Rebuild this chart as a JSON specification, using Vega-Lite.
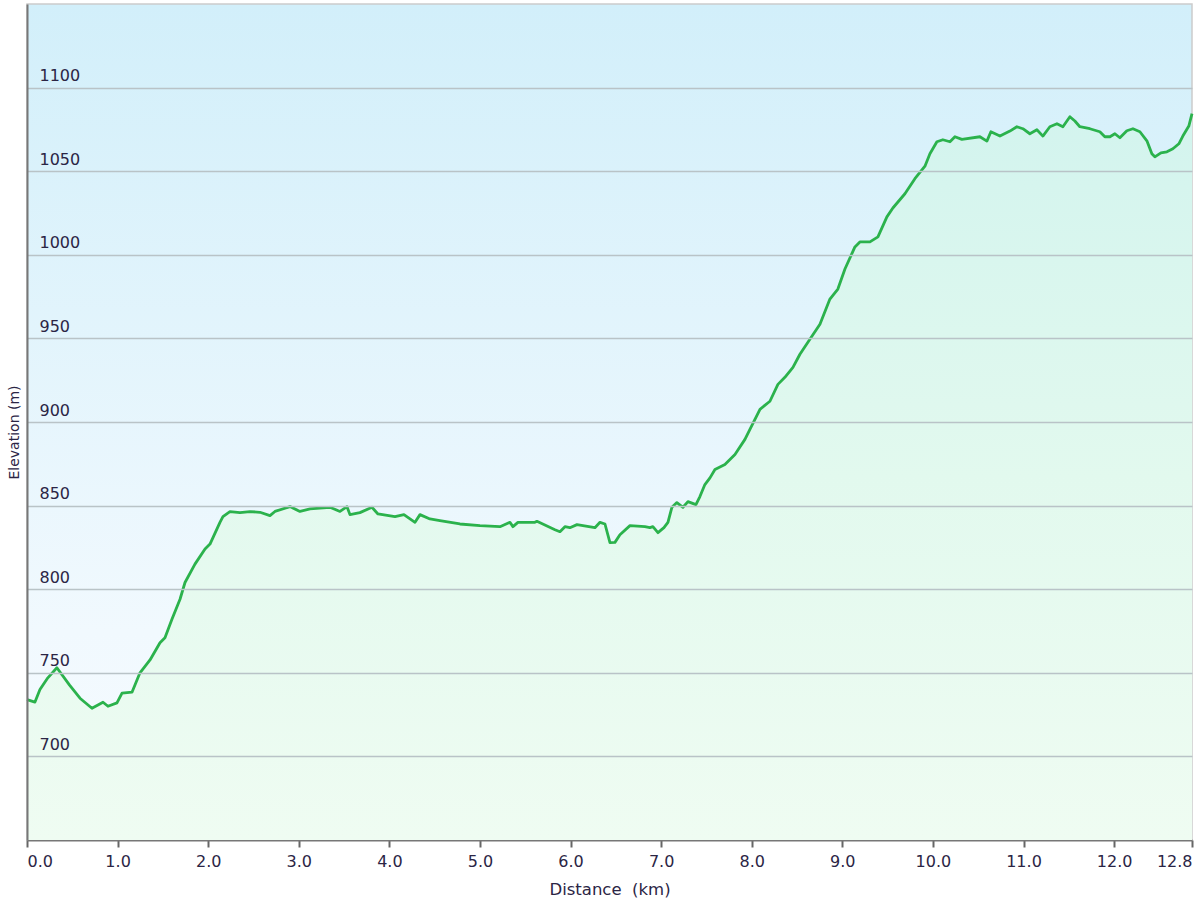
{
  "$schema": "https://vega.github.io/schema/vega-lite/v6.json",
  "width": 1165,
  "height": 836,
  "autosize": {"type": "none"},
  "padding": {"left": 27, "top": 4, "right": 8, "bottom": 60},
  "background": "#ffffff",
  "config": {
    "view": {
      "stroke": "#cccccc",
      "strokeWidth": 1.5,
      "fill": {"gradient": "linear", "x1": 0, "y1": 0, "x2": 0, "y2": 1, "stops": [{"offset": 0, "color": "#d2effa"}, {"offset": 0.75, "color": "#f1f9fe"}, {"offset": 1, "color": "#f6fbff"}]}
    },
    "font": "DejaVu Sans",
    "axis": {"labelFont": "DejaVu Sans", "titleFont": "DejaVu Sans", "labelColor": "#2b2545", "titleColor": "#2b2545", "titleFontWeight": "normal"}
  },
  "data": {"values": [
    {"km": 0.0, "ele": 734}, {"km": 0.088, "ele": 732.5}, {"km": 0.143, "ele": 740}, {"km": 0.23, "ele": 747},
    {"km": 0.33, "ele": 753}, {"km": 0.47, "ele": 742.6}, {"km": 0.585, "ele": 734.8}, {"km": 0.717, "ele": 728.8},
    {"km": 0.839, "ele": 732.4}, {"km": 0.894, "ele": 730}, {"km": 0.993, "ele": 732}, {"km": 1.049, "ele": 737.8},
    {"km": 1.159, "ele": 738.4}, {"km": 1.247, "ele": 750}, {"km": 1.358, "ele": 757.7}, {"km": 1.468, "ele": 768},
    {"km": 1.523, "ele": 771}, {"km": 1.6, "ele": 782}, {"km": 1.689, "ele": 794}, {"km": 1.744, "ele": 804},
    {"km": 1.854, "ele": 815}, {"km": 1.965, "ele": 824}, {"km": 2.02, "ele": 827}, {"km": 2.13, "ele": 840},
    {"km": 2.163, "ele": 843.4}, {"km": 2.24, "ele": 846.4}, {"km": 2.351, "ele": 845.8}, {"km": 2.461, "ele": 846.4},
    {"km": 2.572, "ele": 846}, {"km": 2.682, "ele": 844}, {"km": 2.737, "ele": 846.5}, {"km": 2.903, "ele": 849.4},
    {"km": 3.013, "ele": 846.5}, {"km": 3.124, "ele": 848}, {"km": 3.344, "ele": 849}, {"km": 3.455, "ele": 846.5},
    {"km": 3.532, "ele": 849.4}, {"km": 3.565, "ele": 844.6}, {"km": 3.675, "ele": 845.8}, {"km": 3.808, "ele": 849},
    {"km": 3.874, "ele": 845}, {"km": 4.062, "ele": 843.4}, {"km": 4.161, "ele": 844.6}, {"km": 4.283, "ele": 840},
    {"km": 4.338, "ele": 844.6}, {"km": 4.448, "ele": 842}, {"km": 4.558, "ele": 841}, {"km": 4.779, "ele": 839},
    {"km": 5.0, "ele": 838}, {"km": 5.221, "ele": 837.4}, {"km": 5.331, "ele": 840}, {"km": 5.364, "ele": 837.4},
    {"km": 5.419, "ele": 840}, {"km": 5.607, "ele": 840}, {"km": 5.629, "ele": 840.6}, {"km": 5.828, "ele": 835.6},
    {"km": 5.883, "ele": 834.4}, {"km": 5.938, "ele": 837.4}, {"km": 5.993, "ele": 836.8}, {"km": 6.071, "ele": 838.6},
    {"km": 6.269, "ele": 836.8}, {"km": 6.325, "ele": 840}, {"km": 6.38, "ele": 839}, {"km": 6.435, "ele": 827.8},
    {"km": 6.49, "ele": 828}, {"km": 6.545, "ele": 832.6}, {"km": 6.656, "ele": 838}, {"km": 6.821, "ele": 837.4},
    {"km": 6.876, "ele": 836.8}, {"km": 6.909, "ele": 837.4}, {"km": 6.965, "ele": 833.8}, {"km": 7.031, "ele": 836.8},
    {"km": 7.075, "ele": 840}, {"km": 7.119, "ele": 849}, {"km": 7.174, "ele": 851.8}, {"km": 7.241, "ele": 849},
    {"km": 7.296, "ele": 852.4}, {"km": 7.384, "ele": 850.6}, {"km": 7.428, "ele": 855.4}, {"km": 7.483, "ele": 862.6},
    {"km": 7.539, "ele": 866.6}, {"km": 7.594, "ele": 871.6}, {"km": 7.704, "ele": 874.6}, {"km": 7.815, "ele": 880.6},
    {"km": 7.925, "ele": 889.6}, {"km": 7.98, "ele": 895.6}, {"km": 8.091, "ele": 907.6}, {"km": 8.201, "ele": 912.4},
    {"km": 8.289, "ele": 922.5}, {"km": 8.366, "ele": 926.7}, {"km": 8.455, "ele": 932.7}, {"km": 8.532, "ele": 940.5},
    {"km": 8.642, "ele": 949.5}, {"km": 8.753, "ele": 958.5}, {"km": 8.863, "ele": 973.5}, {"km": 8.951, "ele": 979.5},
    {"km": 9.029, "ele": 991.5}, {"km": 9.139, "ele": 1004.7}, {"km": 9.194, "ele": 1007.7}, {"km": 9.305, "ele": 1007.7},
    {"km": 9.393, "ele": 1010.7}, {"km": 9.492, "ele": 1022.7}, {"km": 9.558, "ele": 1028}, {"km": 9.691, "ele": 1036.5},
    {"km": 9.801, "ele": 1045.5}, {"km": 9.912, "ele": 1053}, {"km": 9.967, "ele": 1060.4}, {"km": 10.044, "ele": 1067.6},
    {"km": 10.11, "ele": 1068.8}, {"km": 10.188, "ele": 1067.6}, {"km": 10.243, "ele": 1070.6}, {"km": 10.32, "ele": 1069},
    {"km": 10.519, "ele": 1070.6}, {"km": 10.596, "ele": 1068}, {"km": 10.64, "ele": 1073.6}, {"km": 10.74, "ele": 1071},
    {"km": 10.85, "ele": 1074}, {"km": 10.927, "ele": 1076.6}, {"km": 10.993, "ele": 1075.4}, {"km": 11.07, "ele": 1072.4},
    {"km": 11.148, "ele": 1074.8}, {"km": 11.214, "ele": 1071}, {"km": 11.291, "ele": 1076.6}, {"km": 11.369, "ele": 1078.4},
    {"km": 11.435, "ele": 1076.6}, {"km": 11.512, "ele": 1082.6}, {"km": 11.567, "ele": 1080}, {"km": 11.622, "ele": 1076.6},
    {"km": 11.733, "ele": 1075.4}, {"km": 11.843, "ele": 1073.6}, {"km": 11.898, "ele": 1070.6}, {"km": 11.954, "ele": 1070.6},
    {"km": 12.009, "ele": 1072.4}, {"km": 12.064, "ele": 1070}, {"km": 12.141, "ele": 1074.2}, {"km": 12.208, "ele": 1075.4},
    {"km": 12.285, "ele": 1073.6}, {"km": 12.362, "ele": 1068.2}, {"km": 12.417, "ele": 1060.4}, {"km": 12.45, "ele": 1058.6},
    {"km": 12.517, "ele": 1061}, {"km": 12.583, "ele": 1061.6}, {"km": 12.649, "ele": 1063.4}, {"km": 12.715, "ele": 1066.4},
    {"km": 12.759, "ele": 1071}, {"km": 12.825, "ele": 1077}, {"km": 12.86, "ele": 1084.4}
  ]},
  "encoding": {
    "x": {
      "field": "km", "type": "quantitative",
      "scale": {"domain": [0, 12.86], "nice": false, "zero": false},
      "axis": {
        "title": "Distance\u00a0 (km)",
        "values": [0, 1, 2, 3, 4, 5, 6, 7, 8, 9, 10, 11, 12, 12.86],
        "labelExpr": "format(floor(datum.value * 10 + 0.0001) / 10, '.1f')",
        "labelFlush": true,
        "labelOverlap": false,
        "grid": false,
        "domainColor": "#777777", "domainWidth": 2,
        "tickColor": "#666666", "tickWidth": 2, "tickSize": 7,
        "labelFontSize": 16, "labelPadding": 6,
        "titleFontSize": 16.5, "titleY": 41, "titleBaseline": "top"
      }
    },
    "y": {
      "field": "ele", "type": "quantitative",
      "scale": {"domain": [650, 1150], "nice": false, "zero": false},
      "axis": {
        "title": "Elevation (m)",
        "zindex": 1,
        "format": "d",
        "values": [700, 750, 800, 850, 900, 950, 1000, 1050, 1100],
        "grid": true, "gridColor": "#b9c3c7", "gridWidth": 1.6,
        "ticks": false, "tickSize": 0,
        "domainColor": "#777777", "domainWidth": 2,
        "labelAlign": "left", "labelPadding": -12, "labelBaseline": "alphabetic", "labelOffset": -7,
        "labelOverlap": false, "labelFontSize": 16,
        "titleFontSize": 14, "titleX": -13, "titleY": 428, "titleAngle": -90, "titleAlign": "center", "titleBaseline": "middle"
      }
    }
  },
  "layer": [
    {
      "mark": {"type": "area", "interpolate": "linear",
        "fill": {"gradient": "linear", "x1": 0, "y1": 0, "x2": 0, "y2": 1, "stops": [{"offset": 0, "color": "#d3f4ee"}, {"offset": 0.5, "color": "#e2f9ee"}, {"offset": 1, "color": "#effcf2"}]}
      },
      "encoding": {"y2": {"datum": 650}}
    },
    {
      "mark": {"type": "line", "color": "#2bb24c", "strokeWidth": 2.8, "strokeJoin": "round"},
      "encoding": {}
    }
  ]
}
